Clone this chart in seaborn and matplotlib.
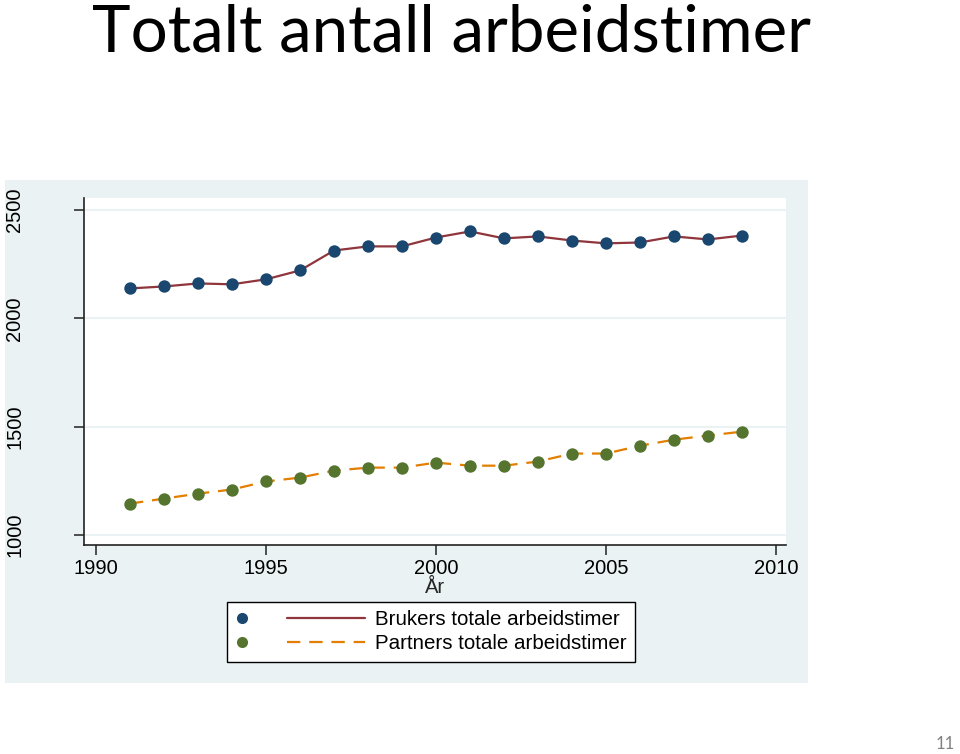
import matplotlib
matplotlib.use("Agg")
import matplotlib.pyplot as plt
import seaborn as sns
import pandas as pd
from matplotlib.patches import Rectangle
from matplotlib.lines import Line2D
from matplotlib.legend_handler import HandlerBase

years = list(range(1991, 2010))
brukers = [2138, 2147, 2161, 2157, 2180, 2221, 2313, 2332, 2332, 2373, 2401,
           2369, 2378, 2359, 2346, 2350, 2378, 2364, 2382]
partners = [1145, 1168, 1191, 1210, 1247, 1265, 1297, 1311, 1311, 1334, 1320,
            1320, 1339, 1376, 1376, 1412, 1440, 1459, 1477]
label_b = "Brukers totale arbeidstimer"
label_p = "Partners totale arbeidstimer"
xticks = [1990, 1995, 2000, 2005, 2010]
yticks = [1000, 1500, 2000, 2500]
title = "Totalt antall arbeidstimer"

sns.set_theme(style="white")
plt.rcParams['font.family'] = ['Liberation Sans', 'DejaVu Sans']

W, H = 960, 754
fig = plt.figure(figsize=(W / 100, H / 100), dpi=100, facecolor="white")
panel_bg = "#eaf2f3"
fig.patches.append(Rectangle((5 / W, 1 - 683 / H), 803 / W, 503 / H,
                             transform=fig.transFigure, facecolor=panel_bg,
                             edgecolor="none", zorder=-5))

ax = fig.add_axes([84 / W, 1 - 545 / H, (786 - 84) / W, (545 - 198) / H])
ax.set_zorder(1)
ax.set_facecolor("white")

df_b = pd.DataFrame({"year": years, "val": brukers})
df_p = pd.DataFrame({"year": years, "val": partners})

c_bm, c_bl = "#1a476f", "#90353b"
c_pm, c_pl = "#55752f", "#e37e00"

for y in yticks:
    ax.axhline(y, color=panel_bg, lw=1.5, zorder=0)

sns.lineplot(data=df_b, x="year", y="val", ax=ax, color=c_bl, lw=1.6, zorder=2)
sns.lineplot(data=df_p, x="year", y="val", ax=ax, color=c_pl, lw=1.6, zorder=2,
             linestyle=(0, (6, 4)))
sns.scatterplot(data=df_b, x="year", y="val", ax=ax, color=c_bm, s=80,
                edgecolor=c_bm, linewidth=0, zorder=3)
sns.scatterplot(data=df_p, x="year", y="val", ax=ax, color=c_pm, s=80,
                edgecolor=c_pm, linewidth=0, zorder=3)

ax.set_xlim(1990 - 12 / 34, 1990 + 690 / 34)
ax.set_ylim(1000 - 10 / 0.217, 2500 + 12 / 0.217)
ax.set_xticks(xticks)
ax.set_yticks(yticks)
for s in ["top", "right"]:
    ax.spines[s].set_visible(False)
for s in ["left", "bottom"]:
    ax.spines[s].set_color("#222222")
    ax.spines[s].set_linewidth(1.2)
ax.tick_params(axis="both", length=7, width=1.1, color="#222222",
               labelsize=14.5, labelcolor="black", direction="out")
ax.tick_params(axis="y", pad=36)
ax.tick_params(axis="x", pad=3)
ax.tick_params(left=True, bottom=True)
for t in ax.get_yticklabels():
    t.set_rotation(90)
    t.set_va("center")
ax.set_ylabel("")
ax.set_xlabel("År", fontsize=14.5, labelpad=0)


class MarkerLineHandler(HandlerBase):
    def create_artists(self, legend, orig_handle, xdescent, ydescent, width,
                       height, fontsize, trans):
        mcol, lcol, ls = orig_handle.mcol, orig_handle.lcol, orig_handle.ls
        x0 = -xdescent
        y = height / 2 - ydescent
        mk = Line2D([x0 + 0.05 * width], [y], marker="o", markersize=8,
                    color=mcol, linestyle="none", markeredgewidth=0)
        ln = Line2D([x0 + 0.40 * width, x0 + width], [y, y], color=lcol,
                    linestyle=ls, lw=1.6)
        mk.set_transform(trans)
        ln.set_transform(trans)
        return [mk, ln]


class Key:
    def __init__(self, mcol, lcol, ls):
        self.mcol, self.lcol, self.ls = mcol, lcol, ls


kb = Key(c_bm, c_bl, "-")
kp = Key(c_pm, c_pl, (0, (6, 4)))
leg = fig.legend([kb, kp], [label_b, label_p],
                 handler_map={Key: MarkerLineHandler()},
                 loc="upper left", bbox_to_anchor=(227 / W, 1 - 602 / H),
                 bbox_transform=fig.transFigure, borderaxespad=0,
                 fontsize=14.8, handlelength=6.3, handletextpad=0.5,
                 labelspacing=0.25, borderpad=0.4, fancybox=False,
                 frameon=True, framealpha=1)
leg.get_frame().set_edgecolor("black")
leg.get_frame().set_linewidth(1.0)
leg.get_frame().set_facecolor("white")
for t in leg.get_texts():
    t.set_color("black")

# Title
tt = fig.text(451 / W, 1 - 52 / H, title, ha="center", va="baseline",
              fontsize=50, family=["Lato", "DejaVu Sans"], color="black")
fig.canvas.draw()
bb = tt.get_window_extent()
target = 718
tt.set_fontsize(50 * target / bb.width)

fig.text(945 / W, 1 - 752 / H, "11", ha="center", va="bottom",
         fontsize=12, color="#808080", family=["Lato", "DejaVu Sans"])

fig.savefig("out.png", dpi=100, facecolor="white")
